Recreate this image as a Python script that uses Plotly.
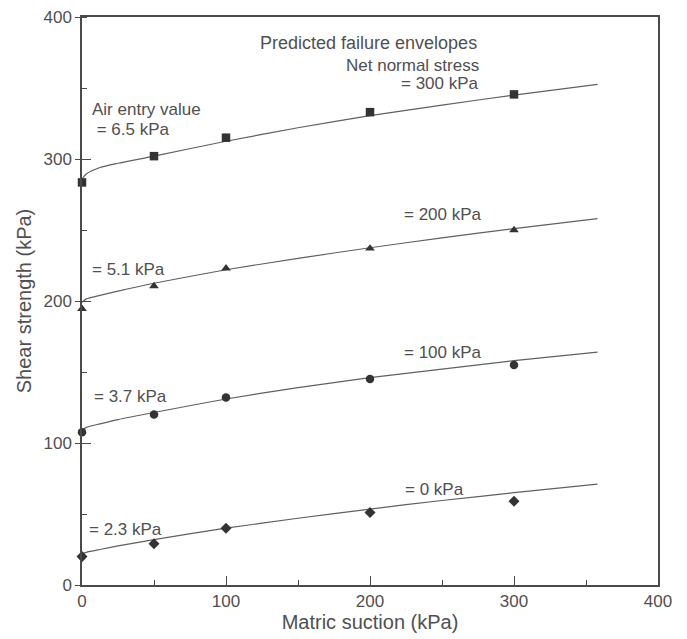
import plotly.graph_objects as go

# Measured points (matric suction, shear strength)
suction_pts = [0, 50, 100, 200, 300]
tau_300 = [283.5, 302, 315, 333, 345.5]
tau_200 = [194.5, 210.5, 223, 237, 250]
tau_100 = [107.6, 120, 132, 145, 155]
tau_0 = [20, 29, 40, 51, 59]

# Predicted envelopes
suction_curve = [0, 3, 12.5, 25, 50, 100, 150, 200, 250, 300, 358]
env_300 = [286, 289.5, 294, 297, 302, 312.5, 322, 330.5, 338, 345, 352.5]
env_200 = [199, 201.5, 204, 207, 212.5, 222, 230, 237.5, 244.5, 251, 258]
env_100 = [109, 111, 113.5, 116.5, 121.5, 131, 139, 146, 152, 158, 164]
env_0 = [22, 23, 25, 27.5, 32, 40, 47, 53.5, 59.5, 65, 71]

series = [
    (env_300, tau_300, "square"),
    (env_200, tau_200, "triangle-up"),
    (env_100, tau_100, "circle"),
    (env_0, tau_0, "diamond"),
]

FONT = "Liberation Sans, Arial, sans-serif"
TXT = "#505050"
AX = "#4a4a4a"

fig = go.Figure()
for env, pts, sym in series:
    fig.add_trace(go.Scatter(x=suction_curve, y=env, mode="lines",
                             line=dict(color="#606060", width=1.2, shape="spline", smoothing=0.6),
                             showlegend=False, hoverinfo="skip"))
    fig.add_trace(go.Scatter(x=suction_pts, y=pts, mode="markers",
                             marker=dict(symbol=sym, size=8.5, color="#333333"),
                             showlegend=False, cliponaxis=False))

# invisible trace to carry the overlay axis (inside half of crossing y ticks)
fig.add_trace(go.Scatter(x=[0], y=[0], yaxis="y2", mode="markers",
                         marker=dict(opacity=0), showlegend=False, hoverinfo="skip"))

annots = [
    ("Predicted failure envelopes", 199, 382, "center", 18),
    ("Net normal stress", 277, 366, "right", 17),
    ("= 300 kPa", 277, 353, "right", 17),
    ("Air entry value", 5.5, 335, "left", 17),
    (" = 6.5 kPa", 5.5, 321, "left", 17),
    ("= 5.1 kPa", 5.5, 222, "left", 17),
    ("= 200 kPa", 279, 261, "right", 17),
    ("= 3.7 kPa", 7, 132.6, "left", 17),
    ("= 100 kPa", 279, 163.5, "right", 17),
    ("= 2.3 kPa", 3.5, 39, "left", 17),
    ("= 0 kPa", 267, 67, "right", 17),
]
for text, x, y, anchor, fs in annots:
    fig.add_annotation(x=x, y=y, text=text, showarrow=False, xanchor=anchor,
                       yanchor="middle", font=dict(family=FONT, size=fs, color=TXT))

common = dict(showline=True, linecolor=AX, linewidth=1.5, mirror=True,
              tickcolor=AX, showgrid=False, zeroline=False, range=[0, 400],
              dtick=100, automargin=False, ticklabeloverflow="allow",
              tickfont=dict(family=FONT, size=17, color=TXT))

fig.update_layout(
    width=679, height=631,
    margin=dict(l=74, r=29, t=9, b=54),
    plot_bgcolor="white", paper_bgcolor="white",
    xaxis=dict(**common, ticks="inside", ticklen=9,
               minor=dict(ticks="inside", ticklen=5, dtick=50, tickcolor=AX),
               title=dict(text="Matric suction (kPa)", standoff=0,
                          font=dict(family=FONT, size=20, color=TXT))),
    yaxis=dict(**common, ticks="outside", ticklen=5,
               minor=dict(ticks="inside", ticklen=5, dtick=50, tickcolor=AX),
               title=dict(text="Shear strength (kPa)", standoff=6,
                          font=dict(family=FONT, size=20, color=TXT))),
    yaxis2=dict(overlaying="y", side="left", range=[0, 400], dtick=100,
                ticks="inside", ticklen=9, tickcolor=AX, showticklabels=False,
                showline=False, showgrid=False, zeroline=False, automargin=False),
)

fig.write_html("out.html")
